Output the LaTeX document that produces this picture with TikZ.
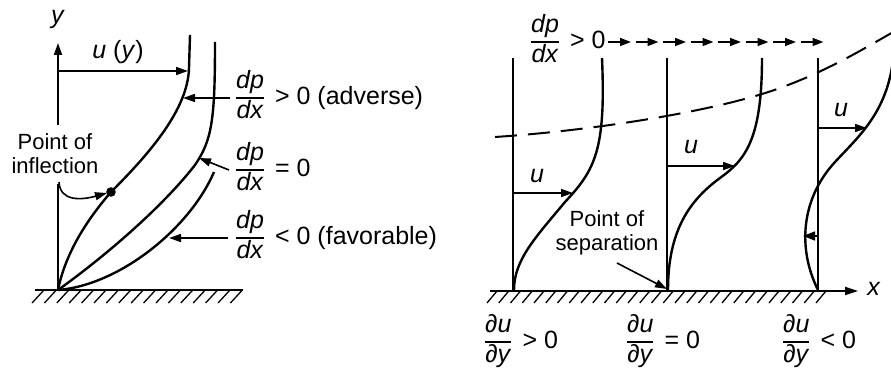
\documentclass[tikz,border=0pt]{standalone}
\usepackage{fontspec}
\setmainfont{Liberation Sans}
\usetikzlibrary{arrows.meta}
\newcommand{\myfr}[2]{$\vcenter{\hbox{\setlength{\tabcolsep}{0pt}\setlength{\arrayrulewidth}{1.5pt}\renewcommand{\arraystretch}{0.92}\begin{tabular}{c}#1\\\hline#2\end{tabular}}}$}
\begin{document}
\begin{tikzpicture}[x=1pt,y=-1pt,
  prof/.style={line width=2.4pt},
  axis/.style={line width=1.7pt},
  arr/.style={line width=1.6pt,-{Triangle[length=12pt,width=8pt]}},
  darr/.style={line width=1.6pt,-{Triangle[length=11pt,width=8pt]}},
  hatch/.style={line width=1.3pt},
  lbl/.style={font=\fontsize{25}{30}\selectfont,inner sep=0pt},
  sm/.style={font=\fontsize{22}{25}\selectfont,inner sep=0pt,align=center}]
\clip (0,0) rectangle (891,374);
\fill[white] (0,0) rectangle (891,374);
% ---------- left figure ----------
\coordinate (o1) at (58,290);
\coordinate (ytop) at (58,43);
\coordinate (ybrk) at (58,125);
\coordinate (ylow) at (58,184);
\draw[axis,-{Triangle[length=12pt,width=8pt]}] (ybrk) -- (ytop);
\draw[axis] (o1) -- (ylow);
\node[lbl] (ylab) at (58,19) {\textit{y}};
\draw[axis] (35,290) -- (243,290);
\foreach \i in {0,...,16} \draw[hatch] ({44+12.4*\i},290) -- ({32+12.4*\i},303);
% curves
\draw[prof] (190,35) -- (189,68) .. controls (188,110) and (148,155) .. (111,192) .. controls (85,222) and (65,255) .. (o1);
\draw[prof] (215,42) .. controls (215,120) and (212,140) .. (195,165) .. controls (160,210) and (100,260) .. (o1);
\draw[prof] (214,172) .. controls (190,228) and (120,285) .. (o1);
% u(y)
\coordinate (uy0) at (58,71);
\coordinate (uy1) at (188,71);
\draw[arr] (uy0) -- (uy1);
\node[lbl] (uylab) at (118,52) {\textit{u} (\textit{y})};
% inflection
\node[sm] (infl) at (55,154) {Point of\\[-1pt]inflection};
\coordinate (dot) at (111,192);
\fill (dot) circle (4.8);
\coordinate (ia) at (59,182);
\draw[arr] (ia) .. controls (60,202) and (82,200) .. (107,193);
% labels
\node[lbl,anchor=west] (l1) at (236,98) {\myfr{\textit{dp}}{\textit{dx}} \,> 0 (adverse)};
\node[lbl,anchor=west] (l2) at (236,170) {\myfr{\textit{dp}}{\textit{dx}} \,= 0};
\node[lbl,anchor=west] (l3) at (236,238) {\myfr{\textit{dp}}{\textit{dx}} \,< 0 (favorable)};
\coordinate (a1s) at (230,98);
\coordinate (a1e) at (183,98);
\coordinate (a2s) at (229,170);
\coordinate (a2e) at (199,158);
\coordinate (a3s) at (228,238);
\coordinate (a3e) at (169,238);
\draw[arr] (a1s) -- (a1e);
\draw[arr] (a2s) -- (a2e);
\draw[arr] (a3s) -- (a3e);
% ---------- right figure ----------
\coordinate (w0) at (490,291);
\coordinate (w1) at (858,291);
\draw[axis,-{Triangle[length=13pt,width=8pt]}] (w0) -- (w1);
\node[lbl] (xlab) at (874,289) {\textit{x}};
\foreach \i in {0,...,28} \draw[hatch] ({497+11.75*\i},291) -- ({487+11.75*\i},303);
% verticals
\draw[axis] (513,58) -- (513,291);
\draw[axis] (667,58) -- (667,291);
\draw[axis] (818,58) -- (818,291);
% profiles
\draw[prof] (602,58) .. controls (606,150) and (595,170) .. (565,202) .. controls (535,238) and (514,260) .. (514,290);
\draw[prof] (762,58) .. controls (762,140) and (745,160) .. (720,178) .. controls (690,200) and (668,230) .. (668,290);
\draw[prof] (894,50) .. controls (890,110) and (860,135) .. (835,162) .. controls (800,200) and (798,250) .. (818,290);
% u arrows
\coordinate (p1a) at (513,193);
\coordinate (p1b) at (573,193);
\coordinate (p2a) at (667,166);
\coordinate (p2b) at (735,166);
\coordinate (p3a) at (818,128);
\coordinate (p3b) at (867,128);
\coordinate (r3a) at (818,236);
\coordinate (r3b) at (803,236);
\draw[arr] (p1a) -- (p1b);
\node[lbl] (u1) at (537,176) {\textit{u}};
\draw[arr] (p2a) -- (p2b);
\node[lbl] (u2) at (691,147) {\textit{u}};
\draw[arr] (p3a) -- (p3b);
\node[lbl] (u3) at (841,110) {\textit{u}};
\draw[line width=1.6pt,-{Triangle[length=12pt,width=9pt]}] (r3a) -- (r3b);
% dashed curve
\draw[line width=2pt,dash pattern=on 22pt off 11pt] (495,137) .. controls (600,130) and (720,110) .. (780,88) .. controls (830,70) and (870,45) .. (895,31);
% top label and dashed arrows
\node[lbl,anchor=west] (tp) at (531,42) {\myfr{\textit{dp}}{\textit{dx}} \,> 0};
\foreach \i in {0,...,7} \draw[darr] ({608+27.5*\i},42) -- ({631+27.5*\i},42);
% separation
\node[sm] (sep) at (607,233) {Point of\\[-1pt]separation};
\coordinate (s0) at (617,263);
\coordinate (s1) at (667,289);
\draw[arr] (s0) -- (s1);
% bottom labels
\node[lbl,anchor=west] (b1) at (485,342) {\myfr{\textit{∂u}}{\textit{∂y}} \,> 0};
\node[lbl,anchor=west] (b2) at (627,342) {\myfr{\textit{∂u}}{\textit{∂y}} \,= 0};
\node[lbl,anchor=west] (b3) at (783,342) {\myfr{\textit{∂u}}{\textit{∂y}} \,< 0};
\end{tikzpicture}
\end{document}
